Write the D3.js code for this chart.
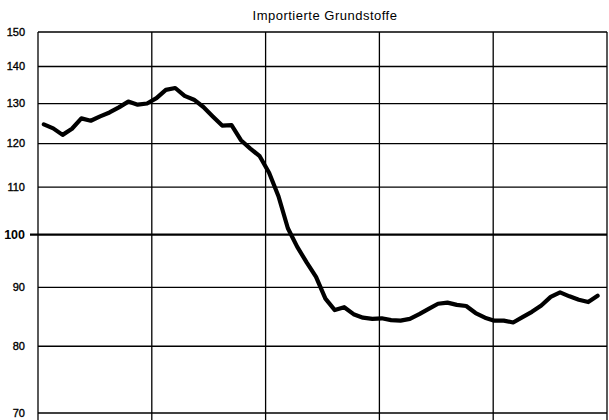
<!DOCTYPE html>
<meta charset="utf-8">
<style>
    body { margin: 0; background: #fff; }
    text { font-family: "Liberation Sans", Arial, sans-serif; fill: #000; }
    .grid line { stroke: #000; stroke-width: 1.3; }
    .grid line.base { stroke-width: 2.2; }
    text.tick { stroke: #000; stroke-width: 0.35; }
    path.index { fill: none; stroke: #000; stroke-width: 4.2; stroke-linejoin: round; stroke-linecap: round; }
</style>
<body>
<script src="https://cdnjs.cloudflare.com/ajax/libs/d3/7.8.5/d3.min.js"></script>
<script>
    var title = "Importierte Grundstoffe";
    var yTicks = [70, 80, 90, 100, 110, 120, 130, 140, 150];
    var years = [0, 1, 2, 3, 4, 5];
    // monthly index values
    var values = [
        124.7, 123.7, 122.1, 123.6, 126.2, 125.6, 126.7, 127.7, 129.0, 130.5,
        129.7, 130.0, 131.4, 133.6, 134.1, 132.0, 131.0, 129.1, 126.7, 124.4,
        124.5, 120.8, 118.8, 117.0, 113.2, 108.0, 101.3, 97.6, 94.6, 91.9,
        88.0, 86.0, 86.5, 85.3, 84.7, 84.5, 84.6, 84.3, 84.2, 84.5,
        85.3, 86.2, 87.1, 87.3, 86.9, 86.7, 85.5, 84.7, 84.2, 84.2,
        83.9, 84.8, 85.7, 86.8, 88.3, 89.1, 88.4, 87.8, 87.4, 88.5
    ];

    var width = 609, height = 420;
    var margin = {top: 32, right: 2, bottom: 7, left: 38};
    var x0 = margin.left, x1 = width - margin.right;
    var y0 = margin.top, y1 = height - margin.bottom;

    var svg = d3.select("body").append("svg")
        .attr("width", width)
        .attr("height", height);

    var y = d3.scaleLog().domain([70, 150]).range([y1, y0]);
    var xYear = d3.scaleLinear().domain([0, 5]).range([x0, x1]);
    var x = d3.scaleLinear().domain([-0.62, 60]).range([x0, x1]);

    var grid = svg.append("g").attr("class", "grid");
    grid.selectAll("line.h")
        .data(yTicks)
        .enter().append("line")
        .attr("class", function(d) { return d === 100 ? "h base" : "h"; })
        .attr("x1", function(d) { return d === 100 ? x0 - 8 : x0; })
        .attr("x2", x1)
        .attr("y1", function(d) { return y(d); })
        .attr("y2", function(d) { return y(d); });
    grid.selectAll("line.v")
        .data(years)
        .enter().append("line")
        .attr("class", "v")
        .attr("x1", function(d) { return xYear(d); })
        .attr("x2", function(d) { return xYear(d); })
        .attr("y1", y0)
        .attr("y2", height);

    svg.append("g").selectAll("text")
        .data(yTicks)
        .enter().append("text")
        .attr("class", function(d) { return d === 100 ? "" : "tick"; })
        .attr("x", 25)
        .attr("y", function(d) { return y(d); })
        .attr("dy", "0.35em")
        .style("text-anchor", "end")
        .style("font-size", function(d) { return d === 100 ? "12.5px" : "11px"; })
        .style("font-weight", function(d) { return d === 100 ? "bold" : "normal"; })
        .text(function(d) { return d; });

    svg.append("text")
        .attr("x", 325)
        .attr("y", 20)
        .style("text-anchor", "middle")
        .style("font-size", "13px")
        .style("letter-spacing", "0.5px")
        .text(title);

    var line = d3.line()
        .x(function(d, i) { return x(i); })
        .y(function(d) { return y(d); });

    svg.append("path")
        .datum(values)
        .attr("class", "index")
        .attr("d", line);
</script>
